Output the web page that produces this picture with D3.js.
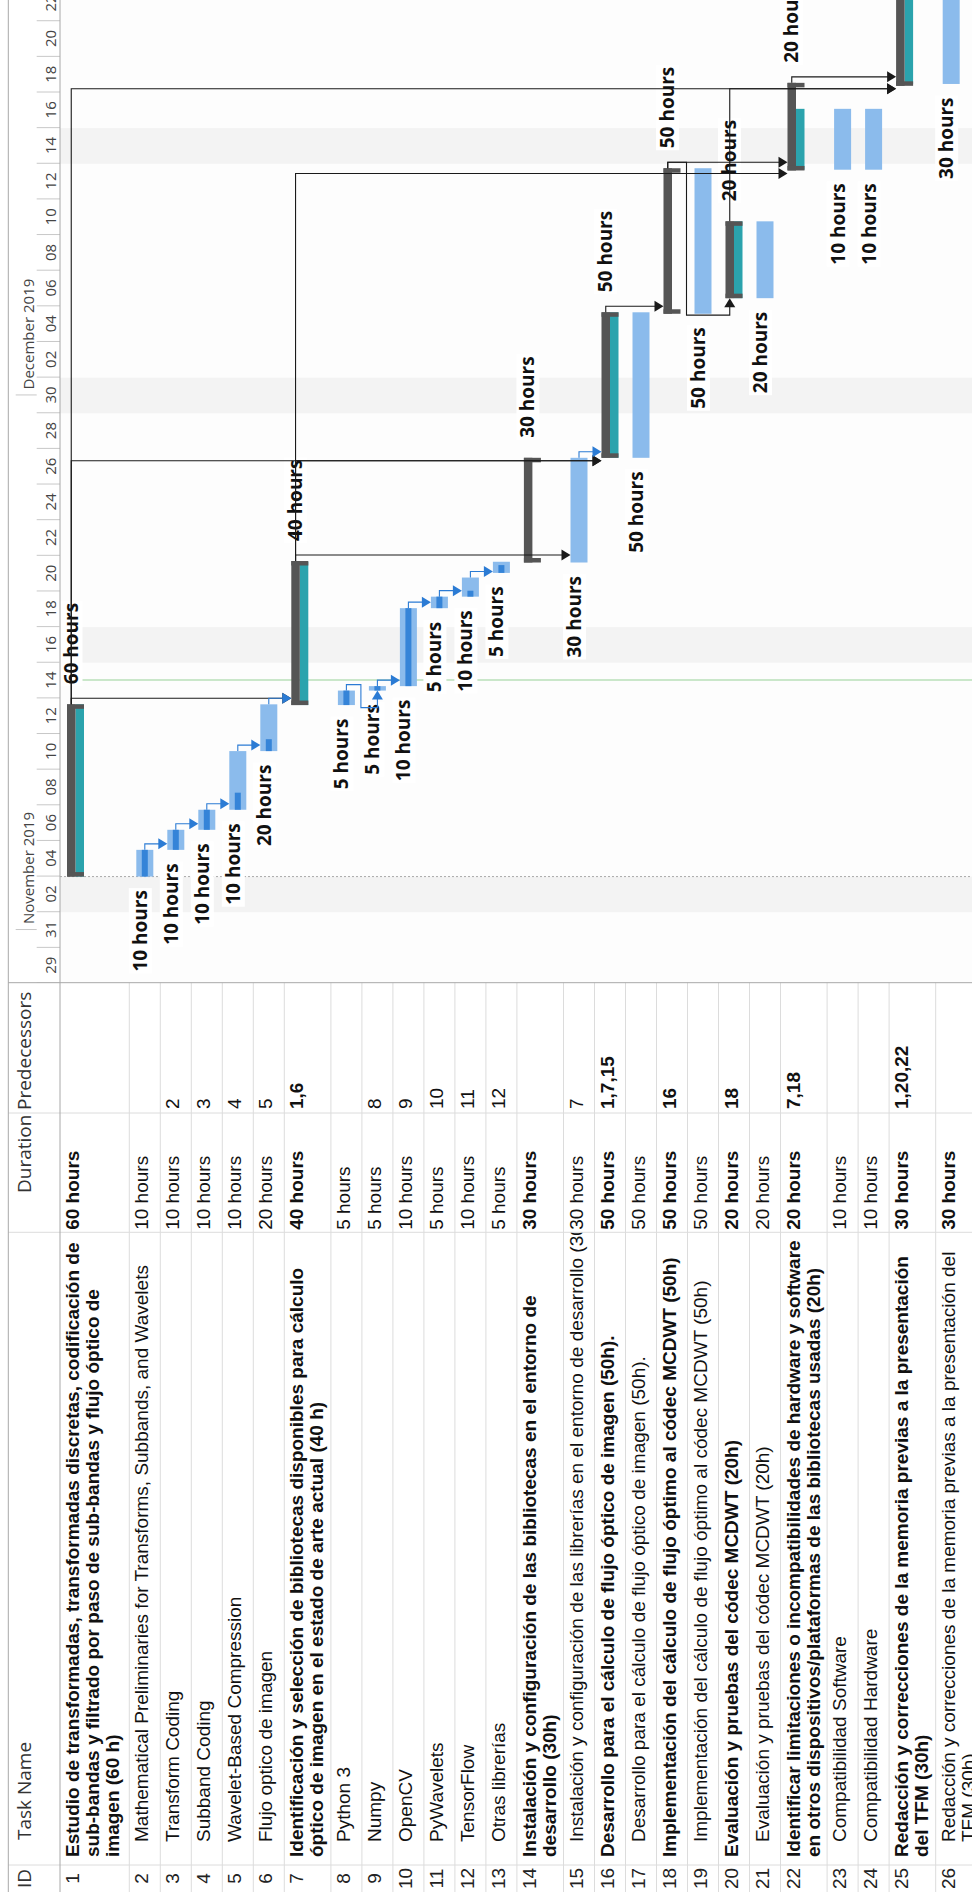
<!DOCTYPE html>
<html>
<head>
<meta charset="utf-8">
<script src="https://cdn.jsdelivr.net/npm/d3@7"></script>
<style>
  html, body { margin: 0; padding: 0; background: #fff; }
  svg { display: block; }
</style>
</head>
<body>
<div id="chart"></div>
<script>
// ---- data ----
const taskIds = d3.range(1, 27);

const taskNames = [
    ["Estudio de transformadas, transformadas discretas, codificación de", "sub-bandas y filtrado por paso de sub-bandas y flujo óptico de", "imagen (60 h)"],
    ["Mathematical Preliminaries for Transforms, Subbands, and Wavelets"],
    ["Transform Coding"],
    ["Subband Coding"],
    ["Wavelet-Based Compression"],
    ["Flujo optico de imagen"],
    ["Identificación y selección de bibliotecas disponibles para cálculo", "óptico de imagen en el estado de arte actual (40 h)"],
    ["Python 3"],
    ["Numpy"],
    ["OpenCV"],
    ["PyWavelets"],
    ["TensorFlow"],
    ["Otras librerías"],
    ["Instalación y configuración de las bibliotecas en el entorno de", "desarrollo (30h)"],
    ["Instalación y configuración de las librerías en el entorno de desarrollo (30h)"],
    ["Desarrollo para el cálculo de flujo óptico de imagen (50h)."],
    ["Desarrollo para el cálculo de flujo óptico de imagen (50h)."],
    ["Implementación del cálculo de flujo óptimo al códec MCDWT (50h)"],
    ["Implementación del cálculo de flujo óptimo al códec MCDWT (50h)"],
    ["Evaluación y pruebas del códec MCDWT (20h)"],
    ["Evaluación y pruebas del códec MCDWT (20h)"],
    ["Identificar limitaciones o incompatibilidades de hardware y software", "en otros dispositivos/plataformas de las bibliotecas usadas (20h)"],
    ["Compatibilidad Software"],
    ["Compatibilidad Hardware"],
    ["Redacción y correcciones de la memoria previas a la presentación", "del TFM (30h)"],
    ["Redacción y correcciones de la memoria previas a la presentación del", "TFM (30h)"]
];

const durations = ["60 hours", "10 hours", "10 hours", "10 hours", "10 hours", "20 hours", "40 hours",
    "5 hours", "5 hours", "10 hours", "5 hours", "10 hours", "5 hours", "30 hours", "30 hours",
    "50 hours", "50 hours", "50 hours", "50 hours", "20 hours", "20 hours", "20 hours",
    "10 hours", "10 hours", "30 hours", "30 hours"];

const predecessors = ["", "", "2", "3", "4", "5", "1,6", "", "8", "9", "10", "11", "12", "", "7",
    "1,7,15", "", "16", "", "18", "", "7,18", "", "", "1,20,22", ""];

const summaryIds = [1, 7, 14, 16, 18, 20, 22, 25];
const boldDurationIds = [1, 7, 14, 16, 18, 20, 22, 25, 26];
const rollupIds = [1, 7, 16, 20, 22, 25];
const parentIds = [0, 1, 1, 1, 1, 1, 0, 7, 7, 7, 7, 7, 7, 0, 14, 0, 16, 0, 18, 0, 20, 0, 22, 22, 0, 25];

const starts = ["2019-11-04 00:00", "2019-11-04 00:00", "2019-11-05 12:00", "2019-11-06 15:00",
    "2019-11-07 18:00", "2019-11-11 01:00", "2019-11-13 15:00", "2019-11-13 15:00",
    "2019-11-14 10:30", "2019-11-14 16:30", "2019-11-19 01:30", "2019-11-19 17:00",
    "2019-11-21 01:00", "2019-11-21 15:00", "2019-11-21 15:00", "2019-11-27 12:00",
    "2019-11-27 12:00", "2019-12-05 14:00", "2019-12-05 14:00", "2019-12-06 11:00",
    "2019-12-06 11:00", "2019-12-13 15:00", "2019-12-13 16:00", "2019-12-13 16:00",
    "2019-12-18 09:00", "2019-12-18 11:30"];

const finishes = ["2019-11-13 16:00", "2019-11-05 12:00", "2019-11-06 15:00", "2019-11-07 18:00",
    "2019-11-11 01:00", "2019-11-13 16:00", "2019-11-21 17:00", "2019-11-14 10:30",
    "2019-11-14 16:30", "2019-11-19 01:30", "2019-11-19 17:00", "2019-11-20 18:45",
    "2019-11-21 16:00", "2019-11-27 12:00", "2019-11-27 12:00", "2019-12-05 16:00",
    "2019-12-05 16:00", "2019-12-13 18:00", "2019-12-13 18:00", "2019-12-10 18:30",
    "2019-12-10 18:30", "2019-12-18 13:00", "2019-12-17 02:00", "2019-12-17 02:00",
    "2019-12-24 12:00", "2019-12-24 12:00"];

// end of the dark progress strip inside a task bar (null = none)
const progressEnds = [null, "2019-11-05 12:00", "2019-11-06 15:00", "2019-11-07 18:00",
    "2019-11-08 17:00", "2019-11-11 17:00", null, "2019-11-14 10:30",
    "2019-11-14 16:30", "2019-11-19 01:30", "2019-11-19 17:00", "2019-11-20 01:00",
    "2019-11-21 11:30", null, null, null, null, null, null, null, null, null, null, null, null, null];

const shadedWeekends = ["2019-11-02", "2019-11-16", "2019-11-30", "2019-12-14"];
const statusDate = "2019-11-15 00:45";
const projectStart = "2019-11-04 00:00";
const timeStart = "2019-10-29 00:00";
const timeEnd = "2019-12-24 00:00";

// ---- layout ----
const W = 1892, H = 972;           // unrotated frame, drawn turned -90deg
const headTop = 8.3, headBottom = 60;
const colX = { id: 0, name: 27, dur: 659.7, pred: 779, gantt: 909.3 };
const lineHeights = [0, 31, 46.6, 69.3];
const barOff = 7, barH = 17;

const parse = d3.utcParse("%Y-%m-%d %H:%M");
const parseDay = d3.utcParse("%Y-%m-%d");

const tasks = taskIds.map((id, i) => ({
    id,
    lines: taskNames[i],
    duration: durations[i],
    pred: predecessors[i],
    summary: summaryIds.includes(id),
    parent: parentIds[i],
    start: parse(starts[i]),
    finish: parse(finishes[i]),
    progress: progressEnds[i] ? parse(progressEnds[i]) : null
}));

let yAcc = headBottom;
tasks.forEach(t => {
    t.top = yAcc;
    t.h = lineHeights[t.lines.length];
    yAcc += t.h;
});

const x = d3.scaleUtc()
    .domain([parse(timeStart), parse(timeEnd)])
    .range([908.5, 908.5 + 56 * 17.82]);

const svg = d3.select("#chart").append("svg")
    .attr("width", 972)
    .attr("height", 1892);

const defs = svg.append("defs");
function clip(id, x0, x1) {
    defs.append("clipPath").attr("id", id)
        .append("rect").attr("x", x0).attr("y", 0).attr("width", x1 - x0).attr("height", H);
}
clip("clip-gantt", colX.gantt, W);
clip("clip-name", colX.name, colX.dur);
clip("clip-dur", colX.dur, colX.pred);
clip("clip-pred", colX.pred, colX.gantt);

const g = svg.append("g")
    .attr("transform", `translate(0,${W}) rotate(-90)`);

g.append("rect").attr("width", W).attr("height", H).attr("fill", "#fff");

// ---- gantt body ----
const gantt = g.append("g").attr("clip-path", "url(#clip-gantt)");

gantt.append("rect")
    .attr("x", colX.gantt).attr("y", headBottom)
    .attr("width", W - colX.gantt).attr("height", H - headBottom)
    .attr("fill", "#fdfdfd");

gantt.selectAll(".weekend")
    .data(shadedWeekends.map(parseDay))
    .join("rect")
    .attr("class", "weekend")
    .attr("x", d => x(d))
    .attr("y", headBottom)
    .attr("width", d => x(d3.utcDay.offset(d, 2)) - x(d))
    .attr("height", H - headBottom)
    .attr("fill", "#f3f3f3");

// timescale: lower tier, one cell per 2 days, labelled with the first day
const dayTicks = d3.utcDay.range(parse(timeStart), parse(timeEnd), 2);
const tickAxis = gantt.append("g")
    .attr("transform", `translate(0,${headBottom})`)
    .call(d3.axisTop(x).tickValues(dayTicks).tickSize(23.3).tickFormat(""));
tickAxis.select(".domain").remove();
tickAxis.selectAll("line").attr("stroke", "#c8c8c8");

const dayFmt = d3.utcFormat("%d");
const dayLabels = gantt.append("g")
    .attr("transform", `translate(0,${headBottom})`)
    .call(d3.axisTop(x)
        .tickValues(dayTicks.map(d => d3.utcDay.offset(d, 1)))
        .tickSize(0).tickPadding(4)
        .tickFormat(d => dayFmt(d3.utcDay.offset(d, -1))));
dayLabels.select(".domain").remove();
dayLabels.selectAll("text")
    .attr("font-family", "'Open Sans', sans-serif")
    .attr("font-size", 15)
    .attr("fill", "#444");

// upper tier (months)
const monthTicks = d3.utcMonth.range(parse(timeStart), parse(timeEnd));
const monthAxis = gantt.append("g")
    .attr("transform", `translate(0,36.7)`)
    .call(d3.axisTop(x).tickValues(monthTicks).tickSize(21).tickFormat(""));
monthAxis.select(".domain").remove();
monthAxis.selectAll("line").attr("stroke", "#c8c8c8");

gantt.selectAll(".month-label")
    .data(monthTicks)
    .join("text")
    .attr("class", "month-label")
    .attr("x", d => x(d) + 6)
    .attr("y", 34)
    .attr("font-family", "'Open Sans', sans-serif")
    .attr("font-size", 15)
    .attr("fill", "#444")
    .text(d3.utcFormat("%B %Y"));

// project start (dotted) and status date (green)
gantt.append("line")
    .attr("x1", x(parse(projectStart))).attr("x2", x(parse(projectStart)))
    .attr("y1", headBottom).attr("y2", H)
    .attr("stroke", "#a9a9a9").attr("stroke-dasharray", "2,2");

gantt.append("line")
    .attr("x1", x(parse(statusDate))).attr("x2", x(parse(statusDate)))
    .attr("y1", headBottom).attr("y2", H)
    .attr("stroke", "#97d197").attr("stroke-width", 1.2);

// ---- bars ----
const bars = gantt.append("g");

tasks.filter(t => !t.summary).forEach(t => {
    bars.append("rect")
        .attr("x", x(t.start)).attr("y", t.top + barOff)
        .attr("width", x(t.finish) - x(t.start)).attr("height", barH)
        .attr("fill", "#8bbbec");
    if (t.progress) {
        bars.append("rect")
            .attr("x", x(t.start)).attr("y", t.top + barOff + 5.5)
            .attr("width", x(t.progress) - x(t.start)).attr("height", 6)
            .attr("fill", "#3584d8");
    }
});

tasks.filter(t => t.summary).forEach(t => {
    const x0 = x(t.start), x1 = x(t.finish);
    if (rollupIds.includes(t.id)) {
        const kids = tasks.filter(k => k.parent === t.id);
        const k0 = x(d3.min(kids, k => k.start)), k1 = x(d3.max(kids, k => k.finish));
        bars.append("rect")
            .attr("x", k0).attr("y", t.top + barOff + 8.5)
            .attr("width", k1 - k0).attr("height", 8.5)
            .attr("fill", "#2ba3ad");
    }
    bars.append("rect")
        .attr("x", x0).attr("y", t.top + barOff)
        .attr("width", x1 - x0).attr("height", 8.5)
        .attr("fill", "#555");
    [x0, x1 - 4.5].forEach(cx => {
        bars.append("rect")
            .attr("x", cx).attr("y", t.top + barOff)
            .attr("width", 4.5).attr("height", barH)
            .attr("fill", "#555");
    });
});

// ---- bar labels (summary: right of bar, task: left of bar) ----
const labels = gantt.append("g");
tasks.forEach(t => {
    const lx = t.summary ? x(t.finish) + 20 : x(t.start) - 13.5;
    if (lx > W) return;
    const lg = labels.append("g");
    const txt = lg.append("text")
        .attr("x", lx)
        .attr("y", t.top + barOff + 10.5)
        .attr("text-anchor", t.summary ? "start" : "end")
        .attr("font-family", "'Open Sans', sans-serif")
        .attr("font-weight", "bold")
        .attr("font-size", 19)
        .attr("fill", "#111")
        .text(t.duration);
    const bb = txt.node().getBBox();
    lg.insert("rect", "text")
        .attr("x", bb.x - 2).attr("y", bb.y + 2)
        .attr("width", bb.width + 4).attr("height", bb.height - 3)
        .attr("fill", "#fff");
});

// ---- dependency links ----
const byId = new Map(tasks.map(t => [t.id, t]));
const links = [];
tasks.forEach(t => {
    if (!t.pred) return;
    t.pred.split(",").forEach(p => links.push({ from: byId.get(+p), to: t }));
});

function midY(t) {
    return t.summary ? t.top + barOff + 4.25 : t.top + barOff + barH / 2;
}

const linkLayer = gantt.append("g");
function drawLink(l) {
    const p = l.from, t = l.to;
    const pe = x(p.finish), ss = x(t.start), sf = x(t.finish);
    const y0 = midY(p), yTop = t.top + barOff;
    const xv = Math.max(pe + 6, ss - 3);
    const color = p.summary ? "#1a1a1a" : "#2b7bd4";
    let d, tri;
    if (xv < sf - 2) {
        d = `M${pe},${y0}H${xv}V${yTop - 8}`;
        tri = [[xv - 5.5, yTop - 9], [xv + 5.5, yTop - 9], [xv, yTop]];
    } else {
        // successor lies before the predecessor's end: route back round
        const yb = p.top + p.h - 1;
        const xb = ss - 17;
        const ym = midY(t);
        d = `M${pe},${y0}H${xv}V${yb}H${xb}V${ym}H${ss - 8}`;
        tri = [[ss - 9, ym - 5.5], [ss - 9, ym + 5.5], [ss, ym]];
    }
    linkLayer.append("path")
        .attr("d", d)
        .attr("fill", "none")
        .attr("stroke", color)
        .attr("stroke-width", 1.1);
    linkLayer.append("path")
        .attr("d", d3.line()(tri) + "Z")
        .attr("fill", color);
}
links.filter(l => l.from.summary).forEach(drawLink);
links.filter(l => !l.from.summary).forEach(drawLink);

// ---- table ----
const table = g.append("g");

const headers = [
    { text: "ID", x: 13.5, anchor: "middle" },
    { text: "Task Name", x: 52, anchor: "start" },
    { text: "Duration", x: 699, anchor: "start" },
    { text: "Predecessors", x: 782, anchor: "start" }
];
table.selectAll(".hdr")
    .data(headers)
    .join("text")
    .attr("class", "hdr")
    .attr("x", d => d.x)
    .attr("y", 31)
    .attr("text-anchor", d => d.anchor)
    .attr("font-family", "'Open Sans', sans-serif")
    .attr("font-size", 19)
    .attr("fill", "#333")
    .text(d => d.text);

const bodyFont = "'Liberation Sans', Arial, sans-serif";

const rows = table.selectAll(".row")
    .data(tasks)
    .join("g")
    .attr("class", "row");

rows.append("text")
    .attr("x", 13.5)
    .attr("y", d => d.top + 19)
    .attr("text-anchor", "middle")
    .attr("font-family", bodyFont)
    .attr("font-size", 19)
    .attr("fill", "#222")
    .text(d => d.id);

const nameG = rows.append("g").attr("clip-path", "url(#clip-name)");
nameG.each(function (d) {
    d3.select(this).selectAll("text")
        .data(d.lines)
        .join("text")
        .attr("x", d.parent ? 50 : 35)
        .attr("y", (s, i) => d.top + 19 + i * 20)
        .attr("font-family", bodyFont)
        .attr("font-size", 19)
        .attr("font-weight", d.summary ? "bold" : "normal")
        .attr("fill", "#111")
        .text(s => s);
});

rows.append("g").attr("clip-path", "url(#clip-dur)")
    .append("text")
    .attr("x", colX.dur + 2.5)
    .attr("y", d => d.top + 19)
    .attr("font-family", bodyFont)
    .attr("font-size", 19)
    .attr("font-weight", d => boldDurationIds.includes(d.id) ? "bold" : "normal")
    .attr("fill", "#111")
    .text(d => d.duration);

rows.append("g").attr("clip-path", "url(#clip-pred)")
    .append("text")
    .attr("x", colX.pred + 4)
    .attr("y", d => d.top + 19)
    .attr("font-family", bodyFont)
    .attr("font-size", 19)
    .attr("font-weight", d => d.summary ? "bold" : "normal")
    .attr("fill", "#111")
    .text(d => d.pred);

// grid lines
table.selectAll(".rowline")
    .data(tasks)
    .join("line")
    .attr("class", "rowline")
    .attr("x1", 0).attr("x2", colX.gantt)
    .attr("y1", d => d.top + d.h).attr("y2", d => d.top + d.h)
    .attr("stroke", "#dcdcdc");

table.selectAll(".colline")
    .data([colX.name, colX.dur, colX.pred])
    .join("line")
    .attr("class", "colline")
    .attr("x1", d => d).attr("x2", d => d)
    .attr("y1", headTop).attr("y2", H)
    .attr("stroke", "#dcdcdc");

g.append("line")
    .attr("x1", colX.gantt).attr("x2", colX.gantt)
    .attr("y1", headTop).attr("y2", H)
    .attr("stroke", "#a8a8a8");

[headTop, headBottom].forEach(yy => {
    g.append("line")
        .attr("x1", 0).attr("x2", W)
        .attr("y1", yy).attr("y2", yy)
        .attr("stroke", "#a8a8a8");
});
</script>
</body>
</html>
